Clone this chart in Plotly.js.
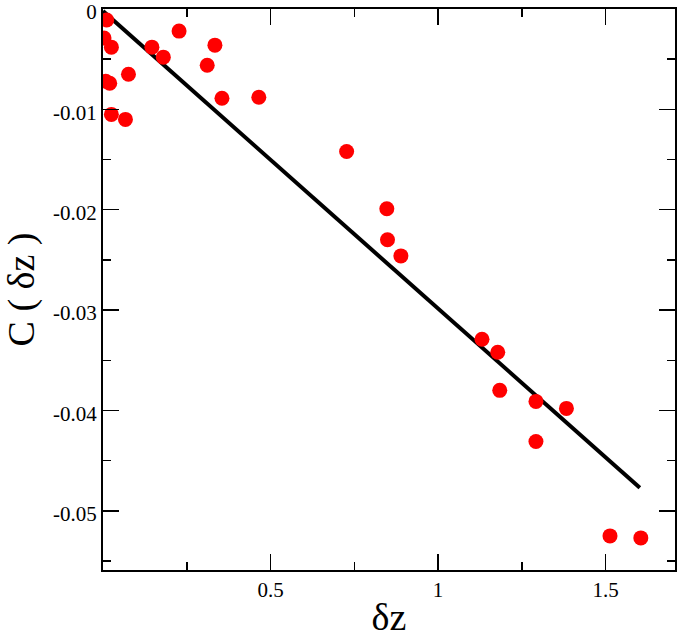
<!DOCTYPE html>
<html>
<head>
<meta charset="utf-8">
<script src="https://cdn.plot.ly/plotly-3.0.1.min.js"></script>
<style>html,body{margin:0;padding:0;background:#fff;}#chart{width:678px;height:638px;}</style>
</head>
<body>
<div id="chart"></div>
<script>
// Scatter data: delta z and C(delta z)
const dzValues = [0.011, 0.003, 0.025, 0.008, 0.020, 0.025, 0.067, 0.076, 0.146, 0.180, 0.227, 0.311, 0.334, 0.355,
                  0.465, 0.727, 0.847, 0.849, 0.889, 1.131, 1.178, 1.184, 1.292, 1.292, 1.383, 1.513, 1.605];
const cValues  = [-0.0011, -0.0029, -0.0038, -0.0072, -0.0074, -0.0105, -0.0110, -0.0065, -0.0038, -0.0048, -0.0022, -0.0056, -0.0036, -0.0089,
                  -0.0088, -0.0142, -0.0199, -0.0230, -0.0246, -0.0329, -0.0342, -0.0380, -0.0391, -0.0431, -0.0398, -0.0525, -0.0527];
// Linear fit line
const fitX = [0.0, 1.602];
const fitY = [-0.0002, -0.0477];
// Tick labels
const xTickVals = [0.5, 1, 1.5];
const xTickText = ['0.5', '1', '1.5'];
const yTickVals = [0, -0.01, -0.02, -0.03, -0.04, -0.05];
const yTickText = ['0', '-0.01', '-0.02', '-0.03', '-0.04', '-0.05'];

const font = '"Liberation Serif", "Times New Roman", serif';

const traces = [
  {x: fitX, y: fitY, mode: 'lines', type: 'scatter', line: {color: '#000', width: 4}, hoverinfo: 'skip'},
  {x: dzValues, y: cValues, mode: 'markers', type: 'scatter', marker: {color: '#ff0000', size: 15, line: {width: 0}}}
];

const layout = {
  width: 678, height: 638,
  margin: {l: 103, r: 3, t: 9, b: 68},
  showlegend: false,
  paper_bgcolor: '#fff', plot_bgcolor: '#fff',
  font: {family: font, color: '#000', size: 20},
  xaxis: {
    range: [0, 1.707], showgrid: false, zeroline: false,
    showline: true, linecolor: '#000', linewidth: 2, mirror: 'allticks',
    ticks: 'inside', ticklen: 16, tickwidth: 1.5, tickcolor: '#000',
    tickmode: 'array', tickvals: xTickVals, ticktext: xTickText,
    tickfont: {family: font, size: 21, color: '#000'},
    ticklabeloverflow: 'allow',
    minor: {ticks: 'inside', ticklen: 8, tickwidth: 1.5, tickcolor: '#000', dtick: 0.25, tick0: 0, showgrid: false},
    title: {text: 'δz', font: {family: font, size: 38, color: '#000'}, standoff: 4}
  },
  yaxis: {
    range: [-0.0559, 0], showgrid: false, zeroline: false,
    showline: true, linecolor: '#000', linewidth: 2, mirror: 'allticks',
    ticks: 'inside', ticklen: 16, tickwidth: 1.5, tickcolor: '#000',
    tickmode: 'array', tickvals: yTickVals, ticktext: yTickText,
    tickfont: {family: font, size: 21, color: '#000'},
    ticklabeloverflow: 'allow', ticklabelshift: 3,
    minor: {ticks: 'inside', ticklen: 8, tickwidth: 1.5, tickcolor: '#000', dtick: 0.005, tick0: 0, showgrid: false},
    title: {text: 'C ( δz )', font: {family: font, size: 38, color: '#000'}, standoff: 8}
  }
};

Plotly.newPlot('chart', traces, layout, {staticPlot: true, displayModeBar: false});
</script>
</body>
</html>
